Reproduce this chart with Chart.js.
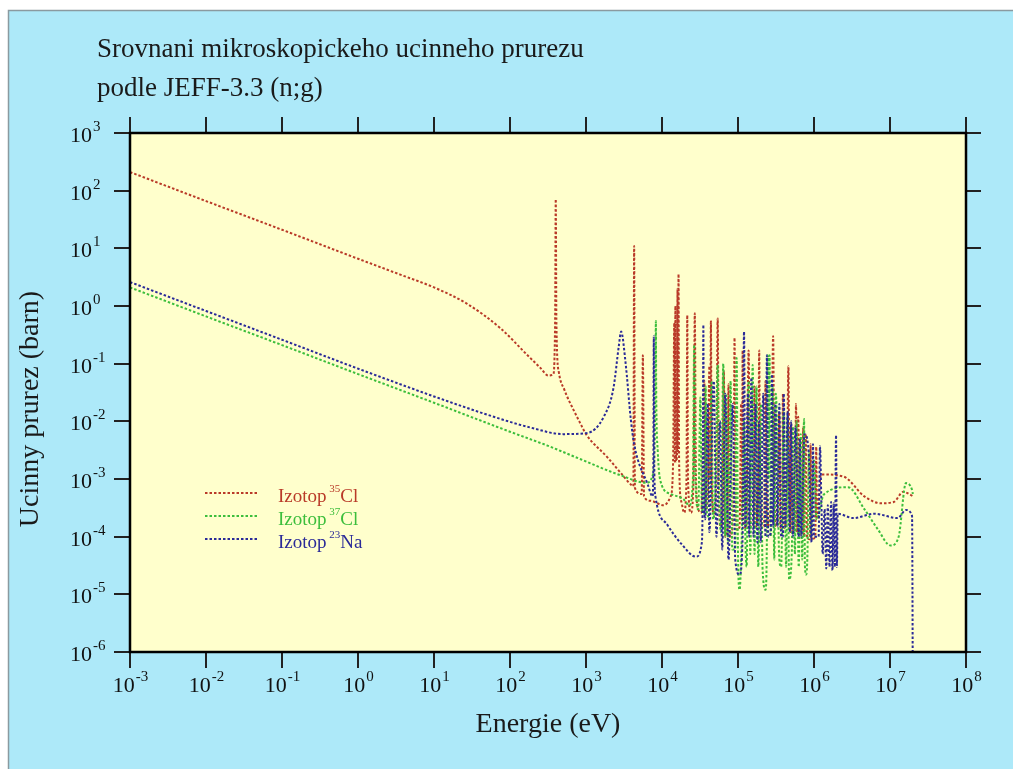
<!DOCTYPE html>
<html><head><meta charset="utf-8">
<script src="https://cdn.jsdelivr.net/npm/chart.js@4.4.0/dist/chart.umd.min.js"></script>
<style>html,body{margin:0;padding:0;background:#fff;}canvas{display:block}</style>
</head><body>
<canvas id="c" width="1013" height="769"></canvas>
<script>
// ---- texts ----
const titleLines = ['Srovnani mikroskopickeho ucinneho prurezu', 'podle JEFF-3.3 (n;g)'];
const xTitle = 'Energie (eV)';
const yTitle = 'Ucinny prurez (barn)';
const xTickExp = ['-3','-2','-1','0','1','2','3','4','5','6','7','8'];
const yTickExp = ['-6','-5','-4','-3','-2','-1','0','1','2','3'];
const legendText = ['Izotop ', 'Izotop ', 'Izotop '];
const legendMass = ['35', '37', '23'];
const legendElem = ['Cl', 'Cl', 'Na'];

// ---- 35Cl (n;g) : energy [eV], cross section [barn] ----
const cl35E = [1e-3,1e-2,1e-1,1,3.6,10,27,75,170,250,320,370,392,400,408,440,520,690,850,1000,1900,2900,3900,4200,4300,4400,5400,5600,5800,7000,
 1.05e4,1.3e4,1.4e4,1.45e4,1.47e4,1.5e4,1.53e4,1.58e4,1.6e4,1.62e4,1.65e4,1.68e4,1.8e4,1.95e4,2.1e4,2.15e4,2.2e4,2.4e4,2.6e4,2.7e4,2.8e4,
 3.0e4,3.3e4,3.6e4,3.8e4,4.0e4,4.2e4,4.3e4,4.4e4,4.5e4,4.8e4,5.2e4,5.4e4,5.6e4,5.9e4,6.2e4,6.5e4,6.8e4,7.2e4,7.5e4,7.8e4,8.3e4,8.8e4,9e4,9.2e4,9.8e4,
 1.05e5,1.1e5,1.13e5,1.15e5,1.18e5,1.28e5,1.38e5,1.45e5,1.6e5,1.65e5,1.72e5,1.85e5,1.9e5,1.95e5,2.05e5,2.2e5,2.3e5,2.4e5,2.6e5,2.75e5,2.9e5,3.0e5,
 3.2e5,3.5e5,3.6e5,3.8e5,3.9e5,4.1e5,4.4e5,4.6e5,4.75e5,4.9e5,5e5,5.2e5,5.6e5,5.8e5,6e5,6.2e5,6.5e5,7e5,7.2e5,7.4e5,7.8e5,8.1e5,8.8e5,9e5,9.3e5,
 1.04e6,1.07e6,1.1e6,1.23e6,2.45e6,4.6e6,7.6e6,1.12e7,1.5e7,1.78e7,2e7];
const cl35S = [210,66,21,6.6,3.5,2.1,1.1,0.41,0.14,0.085,0.062,0.065,0.5,71,0.5,0.07,0.035,0.0155,9e-3,6e-3,2.4e-3,1.25e-3,8e-4,7.5e-4,11,7e-4,5.5e-4,0.14,5e-4,4.2e-4,
 3.5e-4,5e-4,2e-3,0.5,2e-3,1.0,2e-3,3e-3,2.0,3e-3,3.6,2e-3,4e-4,2.6e-4,1e-3,0.7,1e-3,2.6e-4,1e-3,0.75,1e-3,
 3e-4,2.6e-4,0.05,3e-4,5e-4,0.09,1e-3,0.56,1e-3,2.5e-4,1e-3,0.61,8e-4,1.5e-4,2e-4,0.076,1e-4,1.2e-4,0.044,1e-4,1.2e-4,2e-3,0.28,2e-3,1.3e-4,
 1.5e-4,0.02,2e-4,0.17,2e-4,1.4e-4,0.17,1.5e-4,1.5e-4,0.04,1.5e-4,1e-3,0.17,1e-3,1.5e-4,1.5e-4,0.05,1.5e-4,2e-4,1e-3,0.3,1e-3,
 1.5e-4,0.014,1.5e-4,1.4e-4,0.03,1.4e-4,5e-4,0.09,5e-4,1.2e-4,9e-3,1.2e-4,1.5e-4,0.02,1.2e-4,0.012,1.1e-4,1.2e-4,8e-3,1e-4,6e-3,1e-4,9e-5,4e-3,9e-5,
 1e-4,3.6e-3,2e-4,1.2e-3,1.1e-3,5e-4,3.8e-4,4e-4,6e-4,5.5e-4,5e-4];

// ---- 37Cl (n;g) ----
const cl37E = [1e-3,1e-2,1e-1,1,10,100,310,850,2900,6200,7600,8000,8200,8300,8400,8800,9600,1.3e4,1.9e4,2.3e4,2.55e4,2.65e4,2.75e4,3.0e4,3.2e4,3.35e4,
 3.6e4,3.75e4,3.9e4,4.2e4,4.5e4,4.7e4,5.1e4,5.4e4,5.6e4,6e4,6.4e4,6.8e4,7e4,7.4e4,8e4,8.4e4,9.2e4,9.6e4,1.0e5,1.05e5,1.12e5,1.2e5,1.25e5,
 1.3e5,1.38e5,1.45e5,1.56e5,1.65e5,1.75e5,1.85e5,2.0e5,2.1e5,2.3e5,2.4e5,2.45e5,2.52e5,2.6e5,2.7e5,2.85e5,3.0e5,3.15e5,3.5e5,3.7e5,4.0e5,4.3e5,
 4.5e5,4.7e5,5.1e5,5.3e5,5.6e5,5.9e5,6.3e5,6.7e5,7e5,7.4e5,7.6e5,7.9e5,8.2e5,8.6e5,9e5,1e6,1.08e6,1.35e6,2.8e6,4.6e6,6.9e6,1.02e7,1.3e7,1.62e7,1.95e7,2e7];
const cl37S = [2.1,0.66,0.21,0.066,0.021,6.6e-3,3.8e-3,2.2e-3,1.15e-3,8.6e-4,1.2e-3,4e-3,0.05,0.55,0.03,3e-3,9e-4,5.5e-4,4.5e-4,3.5e-4,1e-3,0.21,1e-3,3e-4,0.026,3e-4,
 2.5e-4,0.04,2.5e-4,2.2e-4,0.05,2e-4,1e-3,0.095,1e-3,1.2e-4,0.1,1e-4,0.03,8e-5,0.05,6e-5,6e-5,0.125,5e-5,1.2e-5,1e-4,0.01,1e-4,
 3e-5,0.05,5e-5,0.095,5e-5,0.04,3e-5,0.02,3e-5,1.2e-5,1e-4,0.14,1e-3,0.14,1e-4,0.04,4e-5,0.03,4e-5,3e-5,0.015,3e-5,
 0.012,1.8e-5,5e-5,8e-3,5e-5,0.01,3e-5,6e-3,4e-5,0.011,3e-5,2.2e-5,5e-5,3e-3,1e-4,2.1e-3,2e-4,5.4e-4,7.2e-4,3e-4,1.35e-4,7e-5,1e-4,8.5e-4,6.5e-4,5.5e-4];

// ---- 23Na (n;g) ----
const na23E = [1e-3,1e-2,1e-1,1,3.6,10,75,186,500,1050,1700,2300,2700,2900,3300,3900,4300,6500,7500,7700,7800,7900,8200,1.18e4,1.8e4,2.8e4,
 3.35e4,3.45e4,3.5e4,3.55e4,3.7e4,4.0e4,4.2e4,4.8e4,5.2e4,5.8e4,6.2e4,6.8e4,7.5e4,8.5e4,9.2e4,1.05e5,1.15e5,1.2e5,1.25e5,1.35e5,1.4e5,1.5e5,1.6e5,
 1.7e5,1.8e5,1.9e5,2.0e5,2.15e5,2.3e5,2.4e5,2.5e5,2.7e5,2.8e5,2.9e5,3.1e5,3.3e5,3.5e5,3.7e5,3.9e5,4e5,4.2e5,4.5e5,4.8e5,5e5,5.3e5,5.7e5,6.3e5,
 6.5e5,6.8e5,7.5e5,8.5e5,9.3e5,9.7e5,1.0e6,1.15e6,1.2e6,
 1.25e6,1.3e6,1.38e6,1.45e6,1.52e6,1.6e6,1.68e6,1.75e6,1.82e6,1.88e6,1.95e6,2.0e6,2.05e6,3.3e6,6.2e6,1.26e7,1.62e7,1.95e7,2e7];
const na23S = [2.6,0.82,0.26,0.082,0.044,0.027,0.011,7.8e-3,6e-3,6.3e-3,0.0118,0.038,0.2,0.36,0.11,0.0104,4e-3,8e-4,5e-4,2e-3,0.3,2e-3,5e-4,1.6e-4,7.5e-5,4.5e-5,
 8e-5,2e-3,0.47,2e-3,2e-4,0.02,1.2e-4,0.05,1e-4,0.01,6e-5,0.03,4e-5,0.02,4e-5,2.2e-5,1e-4,0.36,1.5e-4,0.03,1e-4,0.057,1e-4,
 0.02,8e-5,0.01,8e-5,0.03,1e-4,0.14,1e-4,1.2e-4,0.065,1.5e-4,0.02,1.5e-4,0.02,1e-4,1e-4,0.03,1.5e-4,0.015,1.2e-4,0.01,1e-4,8e-3,1e-4,
 5e-3,1e-4,6e-3,3e-3,8e-5,4e-3,1e-4,1e-4,3.7e-3,
 4e-4,5e-5,3e-4,2.8e-5,3.5e-4,3e-5,4e-4,2.6e-5,3.8e-4,3e-5,5.7e-3,3e-5,2.5e-4,2.1e-4,2.5e-4,2.1e-4,2.9e-4,2.3e-4,1e-7];

const seriesLabels = ['35Cl', '37Cl', '23Na'];
const colors = ['#b93a28', '#3cbe3c', '#2a2a98'];

function pts(E, S) { return E.map((e, i) => ({ x: e, y: S[i] })); }

const SERIF = '"Liberation Serif", "DejaVu Serif", serif';

const framePlugin = {
  id: 'frame',
  beforeDraw(chart) {
    const ctx = chart.ctx, a = chart.chartArea;
    ctx.save();
    ctx.fillStyle = '#ffffff';
    ctx.fillRect(0, 0, chart.width, chart.height);
    ctx.fillStyle = '#ade9f9';
    ctx.fillRect(8, 10, chart.width - 8, chart.height - 10);
    ctx.strokeStyle = '#8a9aa0';
    ctx.lineWidth = 1.5;
    ctx.beginPath();
    ctx.moveTo(8.5, chart.height); ctx.lineTo(8.5, 10.5); ctx.lineTo(chart.width, 10.5);
    ctx.stroke();
    ctx.fillStyle = '#ffffcc';
    ctx.fillRect(a.left, a.top, a.right - a.left, a.bottom - a.top);
    ctx.restore();
  },
  afterDraw(chart) {
    const ctx = chart.ctx, a = chart.chartArea;
    const xs = chart.scales.x, ys = chart.scales.y;
    ctx.save();
    ctx.strokeStyle = '#222';
    ctx.lineWidth = 2;
    ctx.beginPath();
    xTickExp.forEach(e => {
      const px = Math.round(xs.getPixelForValue(Math.pow(10, +e)));
      ctx.moveTo(px, a.bottom); ctx.lineTo(px, a.bottom + 16);
      ctx.moveTo(px, a.top); ctx.lineTo(px, a.top - 16);
    });
    yTickExp.forEach(e => {
      const py = Math.round(ys.getPixelForValue(Math.pow(10, +e)));
      ctx.moveTo(a.left, py); ctx.lineTo(a.left - 16, py);
      ctx.moveTo(a.right, py); ctx.lineTo(a.right + 15, py);
    });
    ctx.stroke();
    ctx.strokeStyle = '#000';
    ctx.lineWidth = 2.5;
    ctx.strokeRect(a.left, a.top, a.right - a.left, a.bottom - a.top);

    ctx.fillStyle = '#111';
    ctx.textBaseline = 'alphabetic';
    const bigF = '22px ' + SERIF, supF = '15px ' + SERIF;
    xTickExp.forEach(e => {
      const px = xs.getPixelForValue(Math.pow(10, +e));
      ctx.font = bigF; const w1 = ctx.measureText('10').width;
      ctx.font = supF; const w2 = ctx.measureText(e).width;
      const x0 = px - (w1 + w2) / 2;
      ctx.textAlign = 'left';
      ctx.font = bigF; ctx.fillText('10', x0, a.bottom + 40);
      ctx.font = supF; ctx.fillText(e, x0 + w1 + 1, a.bottom + 29);
    });
    yTickExp.forEach(e => {
      const py = ys.getPixelForValue(Math.pow(10, +e));
      ctx.font = bigF; ctx.textAlign = 'right';
      ctx.fillText('10', 92, py + 9);
      ctx.font = supF; ctx.textAlign = 'left';
      ctx.fillText(e, 93, py - 2);
    });

    ctx.fillStyle = '#1a1a1a';
    ctx.textAlign = 'left';
    ctx.font = '27px ' + SERIF;
    ctx.fillText(titleLines[0], 97, 57);
    ctx.fillText(titleLines[1], 97, 96);
    ctx.font = '28px ' + SERIF;
    ctx.textAlign = 'center';
    ctx.fillText(xTitle, (a.left + a.right) / 2, 732);
    ctx.save();
    ctx.translate(38, 409);
    ctx.rotate(-Math.PI / 2);
    ctx.fillText(yTitle, 0, 0);
    ctx.restore();

    const rowsY = [493, 516, 539];
    chart.data.datasets.forEach((ds, i) => {
      const y = rowsY[i];
      ctx.strokeStyle = ds.borderColor;
      ctx.lineWidth = 2;
      ctx.setLineDash([2.5, 2]);
      ctx.beginPath(); ctx.moveTo(205, y); ctx.lineTo(258, y); ctx.stroke();
      ctx.setLineDash([]);
      ctx.fillStyle = ds.borderColor;
      ctx.textAlign = 'left';
      ctx.font = '19px ' + SERIF;
      let x = 278;
      ctx.fillText(legendText[i], x, y + 9);
      x += ctx.measureText(legendText[i]).width - 2;
      ctx.font = '11px ' + SERIF;
      ctx.fillText(legendMass[i], x, y - 1);
      x += ctx.measureText(legendMass[i]).width;
      ctx.font = '19px ' + SERIF;
      ctx.fillText(legendElem[i], x, y + 9);
    });
    ctx.restore();
  }
};

const dsList = [[cl35E, cl35S], [cl37E, cl37S], [na23E, na23S]].map((p, i) => ({
  label: seriesLabels[i],
  data: pts(p[0], p[1]),
  borderColor: colors[i],
  backgroundColor: colors[i],
  borderWidth: 2,
  borderDash: [2.5, 2],
  pointRadius: 0,
  fill: false,
  cubicInterpolationMode: 'monotone',
  order: 3 - i
}));

new Chart(document.getElementById('c'), {
  type: 'line',
  data: { datasets: dsList },
  options: {
    responsive: false,
    animation: false,
    devicePixelRatio: 1,
    layout: { padding: { left: 130, right: 47, top: 133, bottom: 117 } },
    plugins: { legend: { display: false }, tooltip: { enabled: false } },
    scales: {
      x: { type: 'logarithmic', min: 1e-3, max: 1e8, display: false },
      y: { type: 'logarithmic', min: 1e-6, max: 1e3, display: false }
    }
  },
  plugins: [framePlugin]
});
</script>
</body></html>
